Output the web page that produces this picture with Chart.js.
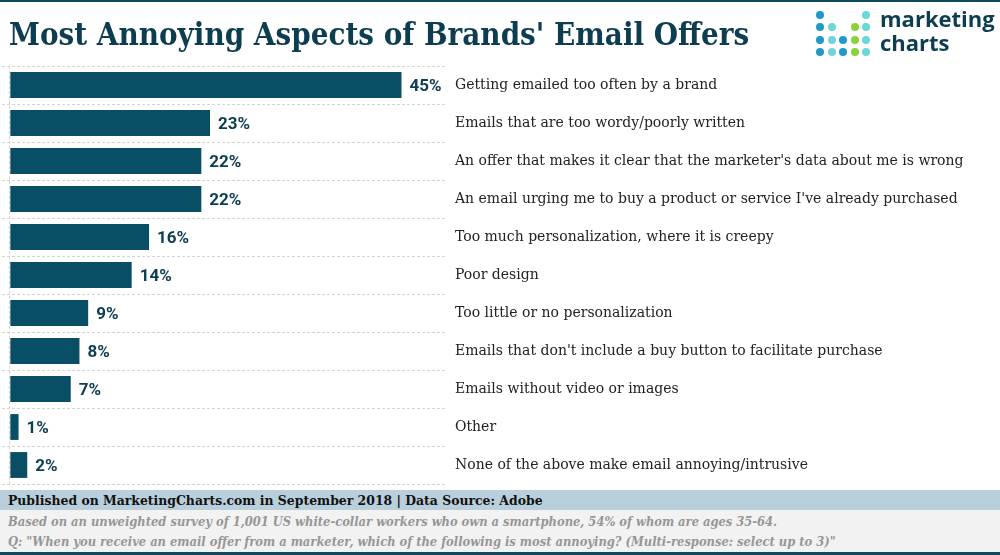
<!DOCTYPE html>
<html><head><meta charset="utf-8">
<script src="https://cdn.jsdelivr.net/npm/chart.js@4/dist/chart.umd.min.js"></script>
<style>
html,body{margin:0;padding:0;width:1000px;height:555px;overflow:hidden;background:#fff;font-family:"DejaVu Serif Condensed","DejaVu Serif",serif;}
#topline{position:absolute;left:0;top:0;width:1000px;height:2px;background:#0d4a5c;}
#title{position:absolute;left:9px;top:16px;font-size:31px;font-weight:bold;color:#0d3d50;white-space:nowrap;}
#logo{position:absolute;left:814px;top:4px;width:186px;height:56px;}
.dot{position:absolute;width:8px;height:8px;border-radius:50%;}
#logotext{position:absolute;left:66px;top:2px;font-family:"Open Sans",sans-serif;font-weight:bold;font-size:22px;line-height:24px;color:#0d3d50;}
#wrap{position:absolute;left:0;top:0;width:1000px;height:555px;}
#pub{position:absolute;left:0;top:490px;width:1000px;height:20px;background:#b9cfdc;font-weight:bold;font-size:13.8px;line-height:20px;color:#111;padding-left:8px;box-sizing:border-box;white-space:nowrap;}
#note{position:absolute;left:0;top:510px;width:1000px;height:42px;background:#f2f2f2;font-style:italic;font-weight:bold;font-size:12.8px;line-height:20px;color:#969696;padding-left:8px;padding-top:2px;box-sizing:border-box;white-space:nowrap;}
#botline{position:absolute;left:0;top:552px;width:1000px;height:3px;background:#0d4a5c;}
</style></head>
<body>
<div id="topline"></div>
<div id="wrap"><canvas id="c" width="1000" height="555"></canvas></div>
<div id="title">Most Annoying Aspects of Brands' Email Offers</div>
<div id="logo"><div id="logotext">marketing<br>charts</div></div>
<div id="pub">Published on MarketingCharts.com in September 2018 | Data Source: Adobe</div>
<div id="note">Based on an unweighted survey of 1,001 US white-collar workers who own a smartphone, 54% of whom are ages 35-64.<br>Q: "When you receive an email offer from a marketer, which of the following is most annoying? (Multi-response: select up to 3)"</div>
<div id="botline"></div>
<script>
const categories = [
  "Getting emailed too often by a brand",
  "Emails that are too wordy/poorly written",
  "An offer that makes it clear that the marketer's data about me is wrong",
  "An email urging me to buy a product or service I've already purchased",
  "Too much personalization, where it is creepy",
  "Poor design",
  "Too little or no personalization",
  "Emails that don't include a buy button to facilitate purchase",
  "Emails without video or images",
  "Other",
  "None of the above make email annoying/intrusive"
];
const values = [45, 23, 22, 22, 16, 14, 9, 8, 7, 1, 2];
const valueLabels = ["45%","23%","22%","22%","16%","14%","9%","8%","7%","1%","2%"];

// logo dots
const dotCols = [6, 18, 29, 41, 52];
const dotRows = [13, 25, 38, 50];
const dotMap = [
  [0,null,null,null,4],
  [0,1,null,3,4],
  [0,1,2,3,4],
  [0,1,2,3,4]
];
const dotColors = ["#1d9bc6","#72d5d5","#1d9bc6","#8bd13c","#6cd7d7"];
const logo = document.getElementById('logo');
dotMap.forEach((row,ri)=>row.forEach((c,ci)=>{
  if(c===null) return;
  const d=document.createElement('div');d.className='dot';
  d.style.left=(dotCols[ci]-4)+'px';d.style.top=(dotRows[ri]-4-2)+'px';d.style.background=dotColors[c];
  logo.appendChild(d);
}));

const valuePlugin = {
  id:'valueLabels',
  afterDatasetsDraw(chart){
    const ctx=chart.ctx;
    const meta=chart.getDatasetMeta(0);
    ctx.save();
    ctx.font='bold 17px Roboto, sans-serif';
    ctx.fillStyle='#0d3d50';
    ctx.textBaseline='middle';
    ctx.textAlign='left';
    meta.data.forEach((bar,i)=>{
      ctx.fillText(valueLabels[i], bar.x+8, bar.y+2);
    });
    ctx.restore();
  }
};

new Chart(document.getElementById('c'), {
  type:'bar',
  data:{labels:categories, datasets:[{data:values, backgroundColor:'#084f66', borderWidth:0, barPercentage:0.68, categoryPercentage:1}]},
  options:{
    indexAxis:'y', responsive:false, animation:false,
    layout:{padding:{left:2, top:66, bottom:71, right:0}},
    plugins:{legend:{display:false}, tooltip:{enabled:false}},
    scales:{
      x:{min:-0.9, max:50, display:true,
         afterBuildTicks(s){ s.ticks=[{value:0}]; },
         ticks:{display:false},
         border:{display:false, dash:[3,2]},
         grid:{color:'#d4d4d4', lineWidth:1, drawTicks:false},
      },
      y:{position:'right',
         afterFit(s){ s.width = 555; },
         border:{display:false, dash:[3,2]},
         grid:{color:'#d4d4d4', lineWidth:1, drawTicks:false, offset:true},
         ticks:{padding:10, color:'#222', font:{family:'"DejaVu Serif", serif', size:14}}
      }
    }
  },
  plugins:[valuePlugin]
});
</script>
</body></html>
